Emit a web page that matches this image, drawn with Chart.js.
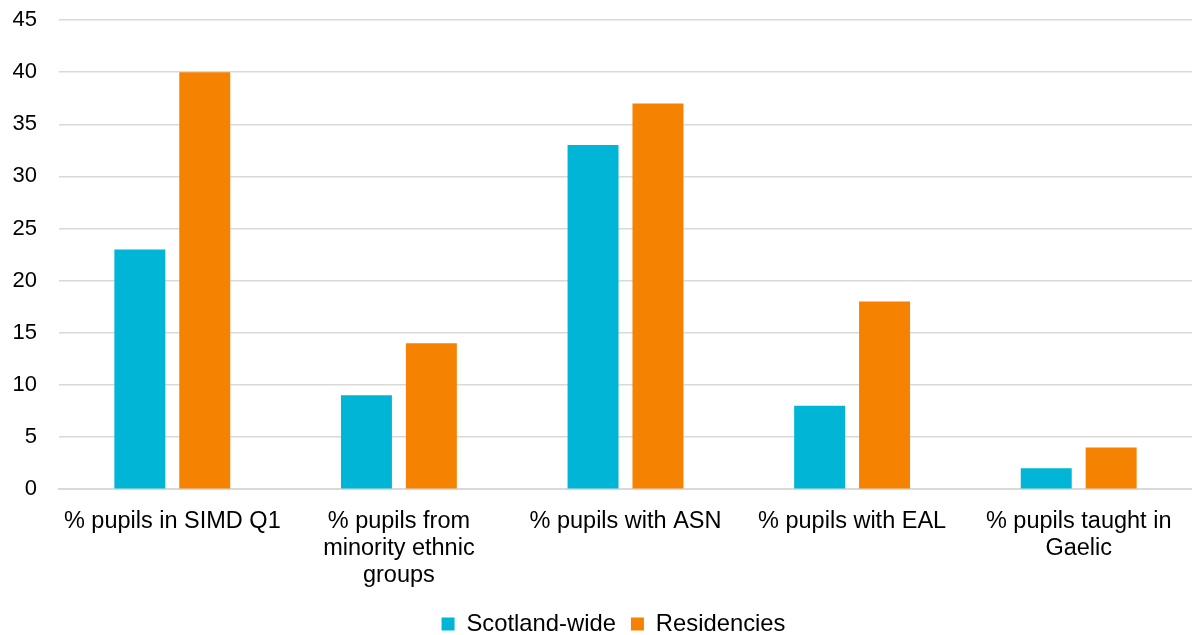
<!DOCTYPE html>
<html>
<head>
<meta charset="utf-8">
<script src="https://cdn.jsdelivr.net/npm/chart.js@4/dist/chart.umd.min.js"></script>
<style>
  html, body { margin: 0; padding: 0; background: #ffffff; }
  #wrap { width: 1192px; height: 635px; position: relative; }
</style>
</head>
<body>
<div id="wrap"><canvas id="chart" width="1192" height="635"></canvas></div>
<script>
// Pupil characteristics: Scotland-wide vs Residencies (%)
const categories = [
  "% pupils in SIMD Q1",
  ["% pupils from", "minority ethnic", "groups"],
  "% pupils with ASN",
  "% pupils with EAL",
  ["% pupils taught in", "Gaelic"]
];
const scotlandWide = [23, 9, 33, 8, 2];
const residencies = [40, 14, 37, 18, 4];
const yTicks = [0, 5, 10, 15, 20, 25, 30, 35, 40, 45];

const FONT = "'Liberation Sans', Arial, sans-serif";
const GRID = "#d9d9d9";

// Nudge the legend so it is centred a little to the right of the canvas centre
const legendOffset = {
  id: "legendOffset",
  afterLayout(chart) {
    if (chart.legend) chart.legend.left += 35;
  }
};

new Chart(document.getElementById("chart"), {
  type: "bar",
  data: {
    labels: categories,
    datasets: [
      { label: "Scotland-wide", data: scotlandWide, backgroundColor: "#00b5d6",
        categoryPercentage: 0.573, barPercentage: 0.785 },
      { label: "Residencies", data: residencies, backgroundColor: "#f58200",
        categoryPercentage: 0.573, barPercentage: 0.785 }
    ]
  },
  plugins: [legendOffset],
  options: {
    responsive: false,
    animation: false,
    layout: { padding: { top: 0, right: 0, left: 0, bottom: -11 } },
    plugins: {
      tooltip: { enabled: false },
      legend: {
        position: "bottom",
        labels: {
          font: { family: FONT, size: 23.8 },
          color: "#000",
          boxWidth: 13,
          boxHeight: 13,
          padding: 15
        }
      }
    },
    scales: {
      x: {
        grid: { display: false, drawTicks: false },
        border: { display: true, color: GRID, width: 2 },
        ticks: {
          font: { family: FONT, size: 23.5, lineHeight: 1.15 },
          color: "#000",
          maxRotation: 0,
          autoSkip: false,
          padding: 19
        },
        afterFit: (s) => { s.height = 108; s.paddingLeft = 0; s.paddingRight = 0; }
      },
      y: {
        min: 0,
        max: 45,
        afterBuildTicks: (axis) => { axis.ticks = yTicks.map(v => ({ value: v })); },
        grid: { color: GRID, lineWidth: 1.5, drawTicks: false },
        border: { display: false },
        ticks: {
          font: { family: FONT, size: 22 },
          color: "#000",
          padding: 22
        },
        afterFit: (s) => { s.width = 59; s.paddingTop = 20; s.paddingBottom = 0; }
      }
    }
  }
});
</script>
</body>
</html>
